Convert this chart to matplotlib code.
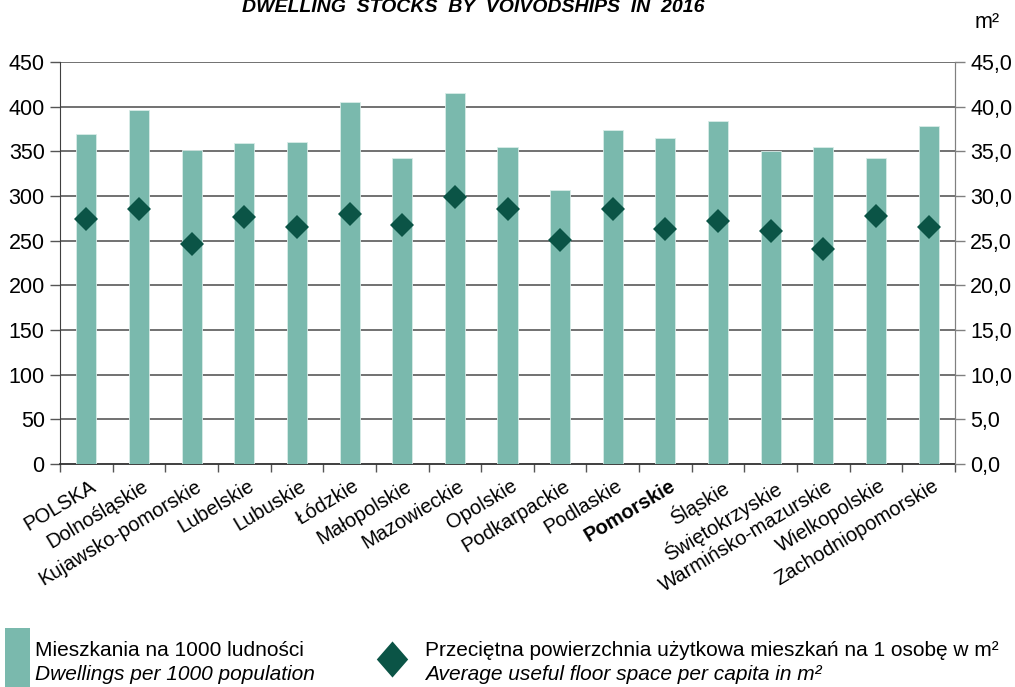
import matplotlib
matplotlib.use("Agg")
import matplotlib.pyplot as plt
from matplotlib.lines import Line2D
from matplotlib.patches import Rectangle
import numpy as np

categories = ["POLSKA", "Dolnośląskie", "Kujawsko-pomorskie", "Lubelskie", "Lubuskie",
              "Łódzkie", "Małopolskie", "Mazowieckie", "Opolskie", "Podkarpackie",
              "Podlaskie", "Pomorskie", "Śląskie", "Świętokrzyskie", "Warmińsko-mazurskie",
              "Wielkopolskie", "Zachodniopomorskie"]
dwellings = [369, 396, 352, 359, 361, 405, 342, 415, 355, 307,
             374, 365, 384, 350, 355, 342, 378]
floor_space = [27.4, 28.6, 24.6, 27.6, 26.5, 28.0, 26.7, 29.9, 28.6, 25.1,
               28.6, 26.3, 27.2, 26.1, 24.1, 27.8, 26.5]
left_ticks = list(range(0, 451, 50))
right_ticks = [v / 10 for v in range(0, 451, 50)]
right_labels = [f"{v:.1f}".replace(".", ",") for v in right_ticks]

title = "DWELLING  STOCKS  BY  VOIVODSHIPS  IN  2016"
leg1 = ["Mieszkania na 1000 ludności", "Dwellings per 1000 population"]
leg2 = ["Przeciętna powierzchnia użytkowa mieszkań na 1 osobę w m²",
        "Average useful floor space per capita in m²"]

BAR = "#7ab9ad"
DIA = "#0b5446"
GRID = "#4a4a4a"
FONT = ["Liberation Sans", "DejaVu Sans"]
plt.rcParams["font.family"] = FONT
TICK_FS = 15.5
CAT_FS = 14.5

W, H = 1015, 687
fig = plt.figure(figsize=(W / 100, H / 100), dpi=100)
ax = fig.add_axes([60 / W, 1 - 464 / H, (955 - 60) / W, (464 - 62) / H])

x = np.arange(len(categories))
ax.bar(x, dwellings, width=0.38, color=BAR, edgecolor="#d8ece8", linewidth=0.6, zorder=3)
ax.set_xlim(-0.5, len(categories) - 0.5)
ax.set_ylim(0, 450)
ax.set_yticks(left_ticks)
ax.set_yticklabels([str(v) for v in left_ticks], fontsize=TICK_FS)
for v in left_ticks[1:]:
    ax.axhline(v, color=GRID, lw=1.1, zorder=1)

ax.set_xticks(np.arange(len(categories) + 1) - 0.5, minor=False)
ax.set_xticklabels([])
ax.tick_params(axis="x", length=6, width=1, color="#555555", direction="out")
ax.tick_params(axis="y", length=7, width=1, color="#555555", direction="out", pad=4)

for i, c in enumerate(categories):
    ax.text(i + 0.06, -14, c, rotation=31, rotation_mode="anchor", ha="right", va="top",
            fontsize=CAT_FS, fontweight="bold" if c == "Pomorskie" else "normal",
            transform=ax.transData, clip_on=False)

ax.spines["top"].set_visible(False)
ax.spines["left"].set_color("#404040")
ax.spines["bottom"].set_color("#303030")
ax.spines["bottom"].set_linewidth(1.3)
ax.spines["right"].set_color("#808080")

ax2 = ax.twinx()
ax2.set_ylim(0, 45)
ax2.set_yticks(right_ticks)
ax2.set_yticklabels(right_labels, fontsize=TICK_FS)
ax2.tick_params(axis="y", length=7, width=1, color="#808080", direction="out", pad=4)
ax2.plot(x, floor_space, linestyle="none", marker="D", markersize=12.7,
         color=DIA, markeredgewidth=0, zorder=4)
for s in ["top", "left", "bottom"]:
    ax2.spines[s].set_visible(False)
ax2.spines["right"].set_color("#808080")

fig.text(473 / W, 1 - 12 / H, title, ha="center", va="baseline", fontsize=14,
         fontweight="bold", style="italic")
fig.text(987 / W, 1 - 22 / H, "m²", ha="center", va="center", fontsize=TICK_FS)

# legend
LEG_FS = 15
fig.patches.append(Rectangle((5 / W, 0), 25 / W, 59 / H, transform=fig.transFigure,
                             facecolor=BAR, edgecolor="none"))
fig.text(35 / W, 1 - 651 / H, leg1[0], ha="left", va="center", fontsize=LEG_FS)
fig.text(35 / W, 1 - 675 / H, leg1[1], ha="left", va="center", fontsize=LEG_FS, style="italic")
tall_diamond = [(0, 1.15), (1, 0), (0, -1.15), (-1, 0), (0, 1.15)]
fig.add_artist(Line2D([392 / W], [1 - 659 / H], transform=fig.transFigure, marker=tall_diamond,
                      markersize=26, color=DIA, markeredgewidth=0, linestyle="none"))
fig.text(425 / W, 1 - 651 / H, leg2[0], ha="left", va="center", fontsize=LEG_FS)
fig.text(425 / W, 1 - 675 / H, leg2[1], ha="left", va="center", fontsize=LEG_FS, style="italic")

fig.savefig("out.png", dpi=100)
